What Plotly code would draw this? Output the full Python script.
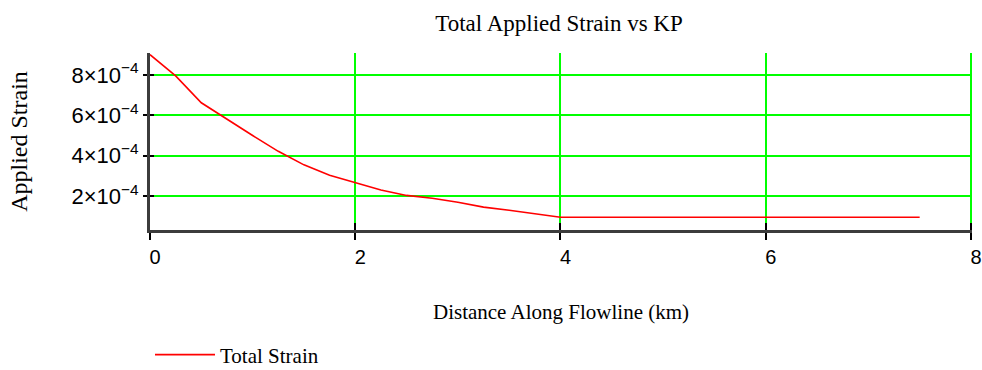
import plotly.graph_objects as go

# Data
distance_km = [0, 0.25, 0.5, 0.75, 1.0, 1.25, 1.5, 1.75, 2.0, 2.25, 2.5, 2.75,
               3.0, 3.25, 3.5, 3.75, 4.0, 7.5]
total_strain = [9.0e-4, 7.95e-4, 6.62e-4, 5.80e-4, 5.00e-4, 4.22e-4, 3.55e-4,
                3.04e-4, 2.66e-4, 2.31e-4, 2.04e-4, 1.90e-4, 1.70e-4, 1.46e-4,
                1.31e-4, 1.13e-4, 0.96e-4, 0.96e-4]

x_ticks = [0, 2, 4, 6, 8]
x_ticklabels = ["0", "2", "4", "6", "8"]
y_ticks = [2e-4, 4e-4, 6e-4, 8e-4]
y_mantissas = ["2", "4", "6", "8"]
y_ticklabels = [m + "×10<sup>−4</sup>" for m in y_mantissas]

x_range = [0, 8.01]
y_range = [0.33e-4, 9.08e-4]

GREEN = "#00FF00"
AXIS = "#3c3c3c"
SERIF = "Liberation Serif, Times New Roman, serif"
SANS = "Liberation Sans, Arial, sans-serif"

fig = go.Figure()
fig.add_trace(go.Scatter(
    x=distance_km, y=total_strain, mode="lines", name="Total Strain",
    line=dict(color="#FF0000", width=1.6),
))
# invisible twin on the overlay axes (for the inner half of the tick marks)
fig.add_trace(go.Scatter(
    x=distance_km, y=total_strain, mode="lines", xaxis="x2", yaxis="y2",
    line=dict(color="rgba(0,0,0,0)", width=1), showlegend=False, hoverinfo="skip",
))

fig.update_layout(
    width=982, height=370,
    margin=dict(l=150, r=10, t=53, b=140, autoexpand=False),
    paper_bgcolor="white", plot_bgcolor="white",
    title=dict(text="Total Applied Strain vs KP", x=559 / 982, xanchor="center",
               y=1 - 23 / 370, yanchor="middle", yref="container",
               font=dict(family=SERIF, size=23, color="black")),
    xaxis=dict(
        range=x_range, tickmode="array", tickvals=x_ticks, ticktext=x_ticklabels,
        showgrid=True, gridcolor=GREEN, gridwidth=2, zeroline=False,
        showline=True, linecolor=AXIS, linewidth=3, automargin=False,
        ticks="outside", ticklen=7, tickwidth=2, tickcolor="black",
        ticklabelshift=5,
        tickfont=dict(family=SANS, size=20, color="black"),
        title=dict(text="Distance Along Flowline (km)", standoff=38,
                   font=dict(family=SERIF, size=21, color="black")),
    ),
    yaxis=dict(
        range=y_range, tickmode="array", tickvals=y_ticks, ticktext=y_ticklabels,
        showgrid=True, gridcolor=GREEN, gridwidth=2, zeroline=False,
        showline=True, linecolor=AXIS, linewidth=3, automargin=False,
        ticks="outside", ticklen=4, tickwidth=2, tickcolor="black",
        tickfont=dict(family=SANS, size=22, color="black"),
        title=dict(text="Applied Strain", standoff=38,
                   font=dict(family=SERIF, size=24, color="black")),
    ),
    xaxis2=dict(
        range=x_range, overlaying="x", anchor="y2", side="bottom",
        tickmode="array", tickvals=x_ticks, showticklabels=False,
        showgrid=False, zeroline=False, showline=False,
        ticks="inside", ticklen=7, tickwidth=2, tickcolor="black",
    ),
    yaxis2=dict(
        range=y_range, overlaying="y", anchor="x2", side="left",
        tickmode="array", tickvals=y_ticks, showticklabels=False,
        showgrid=False, zeroline=False, showline=False,
        ticks="inside", ticklen=4, tickwidth=2, tickcolor="black",
    ),
    showlegend=True,
    legend=dict(
        orientation="h", xref="container", yref="container",
        x=150 / 982, xanchor="left", y=1 - 355 / 370, yanchor="middle",
        itemwidth=60, bgcolor="rgba(0,0,0,0)",
        font=dict(family=SERIF, size=21, color="black"),
    ),
)

fig.write_html("out.html")
